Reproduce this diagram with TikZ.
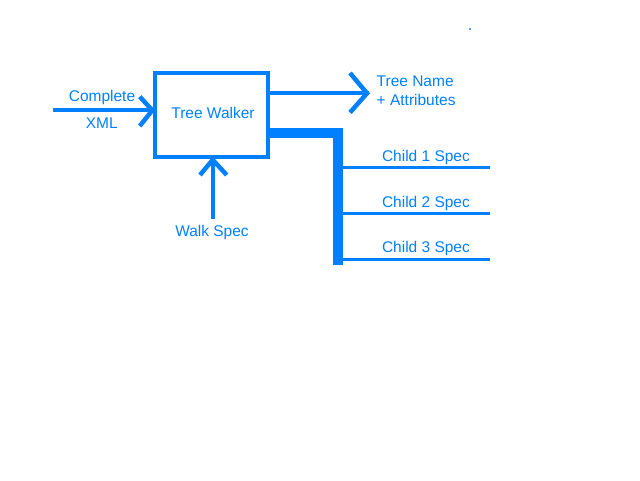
\documentclass[tikz,border=0pt]{standalone}
\usepackage{fontspec}
\setmainfont{Liberation Sans}
\usetikzlibrary{calc}
\definecolor{bl}{RGB}{0,128,255}
\begin{document}
\begin{tikzpicture}[x=1pt,y=-1pt,
  lbl/.style={text=bl, font=\fontsize{15.5}{18}\selectfont, inner sep=0pt, outer sep=0pt},
  boxst/.style={draw=bl, line width=4pt, inner sep=0pt, outer sep=0pt, minimum width=112.7pt, minimum height=84.6pt},
  wire/.style={draw=bl, line width=4pt},
  head/.style={draw=bl, line width=4.5pt, line join=miter},
  bus/.style={draw=bl, line width=9.5pt, line join=miter},
  branch/.style={draw=bl, line width=3pt}]
\useasboundingbox (0,0) rectangle (640,480);
% box
\node[boxst] (walker) at (211.65,115) {};
\node[lbl, anchor=base] (wtext) at (213,118.3) {Tree Walker};
% input
\coordinate (inS) at (53.3,110.3);
\draw[wire] (inS) -- (inS -| walker.west);
\draw[head] ($(inS -| walker.west)+(-15.5,-13.6)$) -- ($(inS -| walker.west)+(-3,0)$) -- ($(inS -| walker.west)+(-15.5,15.7)$);
\node[lbl, anchor=base] (complete) at (102,101.7) {Complete};
\node[lbl, anchor=base] (xml) at (101.7,128) {XML};
% walk spec
\coordinate (wsS) at (212.7,219);
\draw[wire] (wsS) -- (wsS |- walker.south);
\draw[head] ($(wsS |- walker.south)+(-12.7,17.7)$) -- ($(wsS |- walker.south)+(0,2.5)$) -- ($(wsS |- walker.south)+(14,17.7)$);
\node[lbl, anchor=base] (walkspec) at (212,236.7) {Walk Spec};
% tree name output
\coordinate (tnE) at (369,93.3);
\draw[wire] (tnE -| walker.east) -- (tnE);
\draw[head] (350,73) -- ($(tnE)+(-2,0)$) -- (350,112.5);
\node[lbl, anchor=base west] (tname) at (376.7,86) {Tree Name};
\node[lbl, anchor=base west] (tattr) at (376.7,105.7) {+ Attributes};
% bus
\coordinate (spTop) at (338,133);
\coordinate (spBot) at (338,265);
\draw[bus] (spTop -| walker.east) -- (spTop) -- (spBot);
\coordinate (c1) at (490,167);
\coordinate (c2) at (490,213);
\coordinate (c3) at (490,259);
\draw[branch] (c1 -| spTop) -- (c1);
\draw[branch] (c2 -| spTop) -- (c2);
\draw[branch] (c3 -| spTop) -- (c3);
\node[lbl, anchor=base west] (ch1) at (382,161.7) {Child 1 Spec};
\node[lbl, anchor=base west] (ch2) at (382,207.7) {Child 2 Spec};
\node[lbl, anchor=base west] (ch3) at (382,252.7) {Child 3 Spec};
% stray dot
\fill[bl!70] (469.3,28.3) rectangle (471,30);
\end{tikzpicture}
\end{document}
